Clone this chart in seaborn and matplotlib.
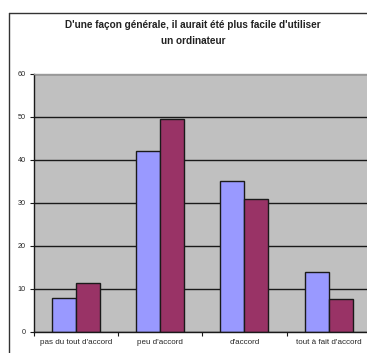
import matplotlib
matplotlib.use("Agg")
import matplotlib.pyplot as plt
import seaborn as sns
import pandas as pd
from matplotlib.lines import Line2D

categories = ["pas du tout d'accord", "peu d'accord", "d'accord", "tout à fait d'accord"]
serie1 = [7.8, 42.1, 35.0, 13.8]
serie2 = [11.3, 49.5, 30.8, 7.6]
series_names = ["Série1", "Série2"]
yticks = [0, 10, 20, 30, 40, 50, 60]
title = "D'une façon générale, il aurait été plus facile d'utiliser\nun ordinateur"

df = pd.DataFrame({
    "cat": categories * 2,
    "val": serie1 + serie2,
    "serie": [series_names[0]] * 4 + [series_names[1]] * 4,
})

sns.set_theme(style="white")
plt.rcParams['font.family'] = ['Liberation Sans', 'DejaVu Sans']

fig = plt.figure(figsize=(3.67, 3.53), dpi=100)
ax = fig.add_axes([34/367, 21.3/353, 336.7/367, 257.7/353])
ax.set_facecolor("#C0C0C0")

sns.barplot(data=df, x="cat", y="val", hue="serie", order=categories,
            palette=["#9999FF", "#993366"], width=0.571, dodge=True,
            edgecolor="#1a1a1a", linewidth=1.0, ax=ax, legend=False, saturation=1)

ax.set_xlim(-0.5, 3.5)
ax.set_ylim(0, 60)
ax.set_yticks(yticks)
ax.set_yticklabels([str(t) for t in yticks], fontsize=5.2)
ax.yaxis.grid(True, color="#1a1a1a", linewidth=1.0)
ax.set_axisbelow(True)
ax.xaxis.grid(False)

ax.set_xticks([-0.5, 0.5, 1.5, 2.5, 3.5])
ax.set_xticklabels([])
ax.set_xticks(range(len(categories)), minor=True)
ax.set_xticklabels(categories, minor=True, fontsize=5.8)
ax.tick_params(axis="x", which="major", direction="out", length=3, width=0.8, color="#1a1a1a", bottom=True)
ax.tick_params(axis="x", which="minor", length=0, pad=5)
ax.tick_params(axis="y", direction="out", length=3, width=0.8, color="#1a1a1a", left=True, pad=3)
ax.set_xlabel("")
ax.set_ylabel("")

for s in ["left", "bottom"]:
    ax.spines[s].set_color("#1a1a1a")
    ax.spines[s].set_linewidth(1.0)
ax.spines["top"].set_color("#999999")
ax.spines["top"].set_linewidth(1.0)
ax.spines["right"].set_visible(False)

fig.text(193/367, 1 - 32.5/353, title, ha="center", va="center", fontsize=7.2,
         fontweight="bold", linespacing=1.75, color="#222222")

# outer chart border
fig.add_artist(Line2D([9/367, 9/367], [0, 1 - 13/353], transform=fig.transFigure, color="#333333", linewidth=1.0))
fig.add_artist(Line2D([9/367, 1], [1 - 13/353, 1 - 13/353], transform=fig.transFigure, color="#333333", linewidth=1.0))

fig.savefig("out.png", dpi=100, facecolor="white")
